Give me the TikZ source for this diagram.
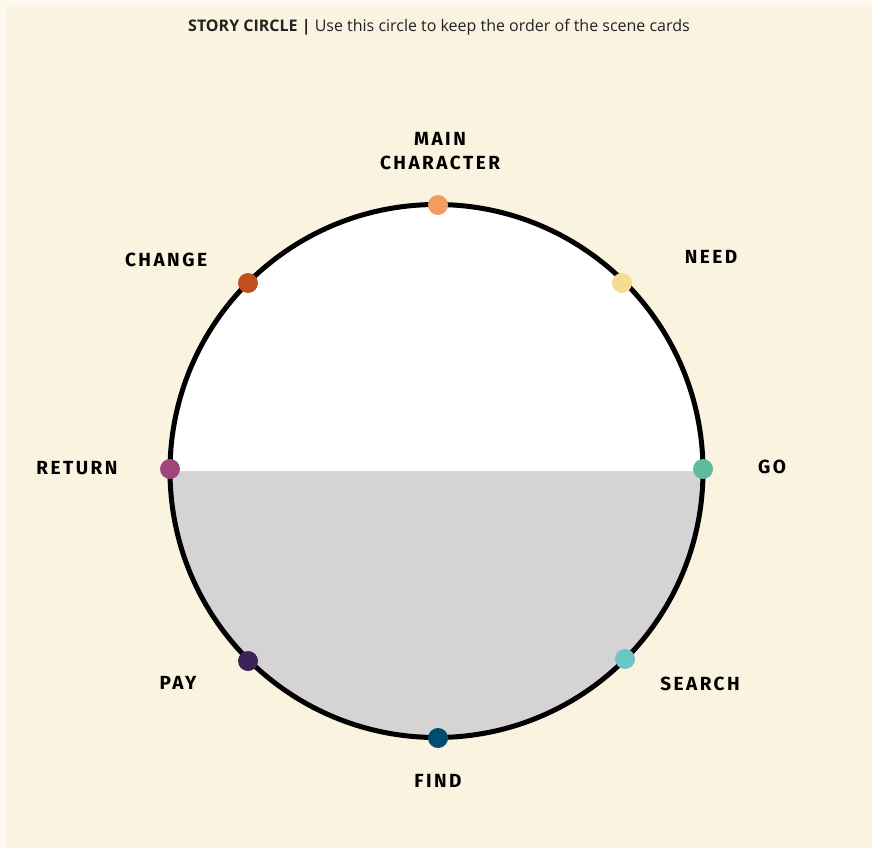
\documentclass[tikz,border=0pt]{standalone}
\usepackage{fontspec}
\setmainfont{Open Sans}[BoldFont={* Bold}]
\newfontfamily\labfont[LetterSpace=13, BoldFont={* Bold}]{Fira Sans}
\definecolor{outerbg}{HTML}{FDF9EE}
\definecolor{bg}{HTML}{FAF3E0}
\definecolor{lower}{HTML}{D5D3D3}
\definecolor{cmain}{HTML}{F29B62}
\definecolor{cneed}{HTML}{F5DC8F}
\definecolor{cgo}{HTML}{5DBB9F}
\definecolor{csearch}{HTML}{6AC7C5}
\definecolor{cfind}{HTML}{004C70}
\definecolor{cpay}{HTML}{3E2356}
\definecolor{creturn}{HTML}{A0467A}
\definecolor{cchange}{HTML}{C2501F}
\definecolor{txt}{HTML}{222222}
\begin{document}
\begin{tikzpicture}[x=1pt,y=-1pt,
  lab/.style={font=\fontsize{19}{24}\selectfont\labfont\bfseries, text=black, align=center, inner sep=0pt},
  dot/.style={circle, minimum size=20pt, inner sep=0pt, fill=#1}]
\useasboundingbox (0,0) rectangle (872,848);
\fill[outerbg] (0,0) rectangle (872,848);
\fill[bg] (5,7) rectangle (872,848);
\coordinate (c) at (436.5,471);
\fill[lower] (170,471) arc[start angle=180, end angle=0, radius=266.5] -- cycle;
\fill[white] (170,471) arc[start angle=180, end angle=360, radius=266.5] -- cycle;
\draw[line width=5pt] (c) circle[radius=266.5];
\node[font=\fontsize{16}{18}\selectfont, text=txt, inner sep=0pt] (title) at (439,27) {\textbf{STORY CIRCLE |} Use this circle to keep the order of the scene cards};
\node[dot=cmain] (dmain) at (438,205) {};
\node[dot=cneed] (dneed) at (622,283) {};
\node[dot=cgo] (dgo) at (703,469) {};
\node[dot=csearch] (dsearch) at (625,659) {};
\node[dot=cfind] (dfind) at (438,738) {};
\node[dot=cpay] (dpay) at (248,661) {};
\node[dot=creturn] (dreturn) at (170,469) {};
\node[dot=cchange] (dchange) at (248,283) {};
\node[lab] (lmain) at (440,151) {MAIN\\[0pt]CHARACTER};
\node[lab] (lneed) at (711,257) {NEED};
\node[lab] (lgo) at (772,467) {GO};
\node[lab] (lsearch) at (700,684) {SEARCH};
\node[lab] (lfind) at (438,781) {FIND};
\node[lab] (lpay) at (178,683) {PAY};
\node[lab] (lreturn) at (77,468) {RETURN};
\node[lab] (lchange) at (166,260) {CHANGE};
\end{tikzpicture}
\end{document}
